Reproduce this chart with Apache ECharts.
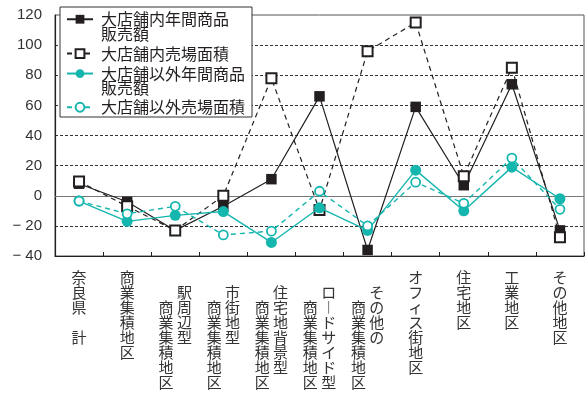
<!DOCTYPE html>
<html>
<head>
<meta charset="utf-8">
<script src="https://cdn.jsdelivr.net/npm/echarts@6/dist/echarts.min.js"></script>
<style>
  html, body { margin: 0; padding: 0; background: #fff; }
  #chart { width: 588px; height: 394px; }
</style>
</head>
<body>
<div id="chart"></div>
<script>
// Categories (districts) along the horizontal axis
const categories = [
  '奈良県計', '商業集積地区', '駅周辺型商業集積地区', '市街地型商業集積地区',
  '住宅地背景型商業集積地区', 'ロードサイド型商業集積地区', 'その他の商業集積地区',
  'オフィス街地区', '住宅地区', '工業地区', 'その他地区'
];

// Series names
const seriesNames = [
  '大店舗内年間商品販売額', '大店舗内売場面積',
  '大店舗以外年間商品販売額', '大店舗以外売場面積'
];

// Values per category (%)
const largeSales = [8, -4, -23, -7, 11, 66, -36, 59, 7, 74, -23];
const largeFloor = [9.5, -7, -23, 0, 78, -9.5, 96, 115, 13, 85, -27.5];
const otherSales = [-3.5, -17, -13, -10.5, -31, -8, -23, 17, -10, 19, -2];
const otherFloor = [-3.5, -12, -7, -26, -23.5, 3, -20, 9, -5, 25, -9];

// Value axis ticks
const yMin = -40, yMax = 120, yStep = 20;

const BLACK = '#231f20';
const CYAN = '#14b6ae';
const JP_FONT = '"Noto Sans CJK JP", "Noto Sans", sans-serif';

// Category labels are written vertically; compound names get two columns
const CLUSTER = '商業集積地区';
function columnsFor(name) {
  if (name === '奈良県計') return [{ text: '奈良県　計', start: 0 }];
  if (name !== CLUSTER && name.endsWith(CLUSTER)) {
    return [
      { text: CLUSTER, start: 2 },
      { text: name.slice(0, -CLUSTER.length), start: 1 }
    ];
  }
  return [{ text: name, start: 0 }];
}
function verticalLabel(name) {
  const cols = columnsFor(name).map(c => ({
    chars: Array.from(c.text).map(ch => (ch === 'ー' ? '︱' : ch)),
    start: c.start
  }));
  const rows = Math.max(...cols.map(c => c.start + c.chars.length));
  const lines = [];
  for (let r = 0; r < rows; r++) {
    lines.push(cols.map(c => c.chars[r - c.start] || '　').join(' '));
  }
  return lines.join('\n');
}

// Long legend names wrap before 販売額; a blank leading line keeps the
// first text line level with the legend icon
function legendLabel(name) {
  return /販売額$/.test(name) ? '　\n' + name.replace(/販売額$/, '\n販売額') : name;
}

const chart = echarts.init(document.getElementById('chart'), null, { renderer: 'canvas' });

const lineW = 1.2;
const series = [
  {
    name: seriesNames[0], type: 'line', data: largeSales, z: 2,
    symbol: 'rect', symbolSize: 10.5,
    itemStyle: { color: BLACK },
    lineStyle: { color: BLACK, width: lineW, type: 'solid' }
  },
  {
    name: seriesNames[1], type: 'line', data: largeFloor, z: 3,
    symbol: 'rect', symbolSize: 10,
    itemStyle: { color: '#fff', borderColor: BLACK, borderWidth: 2 },
    lineStyle: { color: BLACK, width: lineW, type: [5, 4] }
  },
  {
    name: seriesNames[2], type: 'line', data: otherSales, z: 4,
    symbol: 'circle', symbolSize: 11,
    itemStyle: { color: CYAN },
    lineStyle: { color: CYAN, width: 1.4, type: 'solid' }
  },
  {
    name: seriesNames[3], type: 'line', data: otherFloor, z: 5,
    symbol: 'circle', symbolSize: 9,
    itemStyle: { color: '#fff', borderColor: CYAN, borderWidth: 1.8 },
    lineStyle: { color: CYAN, width: 1.4, type: [5, 4] }
  },
  {
    // zero reference line
    name: 'zero', type: 'line', data: [], z: 1, silent: true,
    markLine: {
      silent: true, symbol: 'none', z: 1,
      label: { show: false },
      lineStyle: { color: '#777', width: 1, type: 'solid' },
      data: [{ yAxis: 0 }]
    }
  }
];

// One legend block per entry so each can be placed on its own row
const legendCenters = [18.5, 52.8, 72.8, 106.5];
const LINE_H = 14.5;
const legends = seriesNames.map((name, i) => {
  const twoLine = /販売額$/.test(name);
  return {
    show: true,
    data: [name],
    orient: 'vertical',
    left: 66,
    top: twoLine ? legendCenters[i] - LINE_H * 1.5 : legendCenters[i] - LINE_H / 2,
    padding: 0,
    itemWidth: 26,
    itemHeight: 11,
    selectedMode: false,
    z: 21,
    formatter: legendLabel,
    textStyle: {
      fontFamily: JP_FONT,
      fontSize: 16,
      color: '#231f20',
      lineHeight: LINE_H,
      padding: [0, 0, 0, 3]
    }
  };
});

chart.setOption({
  animation: false,
  backgroundColor: '#fff',
  grid: {
    left: 55, right: 4, top: 15, bottom: 138,
    show: true, borderColor: '#555', borderWidth: 1, backgroundColor: 'transparent'
  },
  graphic: [{
    type: 'rect', z: 20,
    shape: { x: 60, y: 7, width: 192, height: 110 },
    style: { fill: '#fff', stroke: '#333', lineWidth: 1 }
  }],
  legend: legends,
  xAxis: {
    type: 'category',
    data: categories,
    boundaryGap: true,
    axisLine: { onZero: false, lineStyle: { color: BLACK, width: 1.2 } },
    axisTick: { show: true, inside: true, length: 4, lineStyle: { color: BLACK } },
    splitLine: { show: false },
    axisLabel: {
      interval: 0,
      margin: 14,
      fontFamily: JP_FONT,
      fontSize: 15,
      lineHeight: 15,
      color: '#333',
      align: 'center',
      verticalAlign: 'top',
      formatter: (v) => verticalLabel(v)
    }
  },
  yAxis: {
    type: 'value',
    min: yMin, max: yMax, interval: yStep,
    axisLine: { show: true, lineStyle: { color: BLACK, width: 1.2 } },
    axisTick: { show: false },
    splitLine: {
      show: true, showMinLine: false, showMaxLine: false,
      lineStyle: { color: '#333', width: 1, type: [3, 2] }
    },
    axisLabel: {
      margin: 13,
      fontFamily: '"Liberation Sans", Arial, sans-serif',
      fontSize: 15,
      color: '#333',
      formatter: (v) => (v < 0 ? '− ' + (-v) : String(v))
    }
  },
  series: series
});
</script>
</body>
</html>
